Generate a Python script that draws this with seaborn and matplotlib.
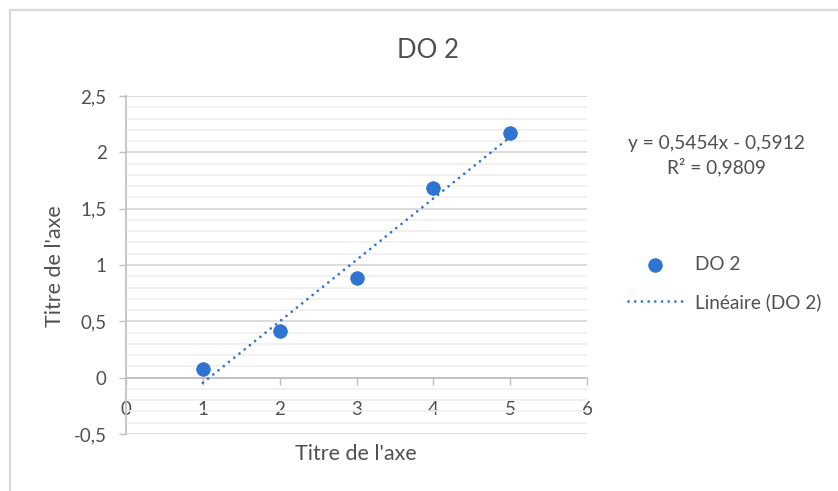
import matplotlib
matplotlib.use("Agg")
import matplotlib.pyplot as plt
import seaborn as sns
import numpy as np
import pandas as pd
from matplotlib.ticker import MultipleLocator, FixedLocator, FuncFormatter
from matplotlib.patches import Rectangle

# Measurements
x_vals = [1, 2, 3, 4, 5]
do2 = [0.081, 0.411, 0.882, 1.679, 2.172]

# Linear trendline
slope = 0.5454
intercept = -0.5912
r_squared = 0.9809

x_ticks = [0, 1, 2, 3, 4, 5, 6]
y_ticks = [-0.5, 0, 0.5, 1, 1.5, 2, 2.5]

sns.set_theme(style="white")
plt.rcParams['font.family'] = ['Lato', 'DejaVu Sans']

TEXT = "#505050"
BLUE = "#2E75D3"
AXIS = "#bfbfbf"
GRID_MAJOR = "#d9d9d9"
GRID_MINOR = "#f0f0f0"

W, H = 838, 491
fig = plt.figure(figsize=(W / 100, H / 100), dpi=100)
fig.patch.set_facecolor("white")

# chart frame
fig.add_artist(Rectangle((10 / W, -0.2), 2.0, (1 - 10 / H) + 0.2,
                         transform=fig.transFigure, fill=False,
                         edgecolor="#d9d9d9", lw=1.6))

ax = fig.add_axes([126 / W, 1 - 434 / H, 461 / W, 338 / H])

df = pd.DataFrame({"x": x_vals, "y": do2})
trend_x = np.array([x_vals[0], x_vals[-1]], dtype=float)
trend = pd.DataFrame({"x": trend_x, "y": slope * trend_x + intercept})

sns.lineplot(data=trend, x="x", y="y", ax=ax, color=BLUE, lw=2.0,
             linestyle=(0, (0.01, 2.4)), dash_capstyle="round",
             label="Linéaire (DO 2)", zorder=3)
sns.scatterplot(data=df, x="x", y="y", ax=ax, color=BLUE, s=95,
                edgecolor="#2a6cc4", linewidth=0.6, label="DO 2", zorder=4)

ax.set_xlim(0, 6)
ax.set_ylim(-0.5, 2.5)
ax.xaxis.set_major_locator(FixedLocator(x_ticks))
ax.yaxis.set_major_locator(FixedLocator(y_ticks))
ax.yaxis.set_minor_locator(MultipleLocator(0.1))
comma = FuncFormatter(lambda v, p: f"{v:g}".replace(".", ","))
ax.xaxis.set_major_formatter(comma)
ax.yaxis.set_major_formatter(comma)

ax.grid(False)
ax.grid(True, which="major", axis="y", color=GRID_MAJOR, lw=1.3, zorder=0)
ax.grid(True, which="minor", axis="y", color=GRID_MINOR, lw=1.3, zorder=0)
ax.set_axisbelow(True)

for side in ["top", "right"]:
    ax.spines[side].set_visible(False)
ax.spines["left"].set_color(AXIS)
ax.spines["left"].set_linewidth(1.2)
ax.spines["bottom"].set_color(AXIS)
ax.spines["bottom"].set_linewidth(1.2)
ax.spines["bottom"].set_position(("data", 0))

ax.tick_params(axis="x", which="major", direction="out", length=5, width=1.0,
               color=AXIS, pad=12, labelsize=13.5, labelcolor=TEXT,
               bottom=True)
ax.tick_params(axis="y", which="major", direction="out", length=5, width=1.0,
               color=AXIS, pad=9, labelsize=13.5, labelcolor=TEXT, left=True)
ax.tick_params(axis="y", which="minor", length=0)

ax.set_xlabel("")
ax.set_ylabel("")
fig.text(356 / W, 1 - 454 / H, "Titre de l'axe", ha="center", va="center",
         fontsize=15.5, color=TEXT)
fig.text(55 / W, 1 - 266 / H, "Titre de l'axe", ha="center", va="center",
         rotation=90, fontsize=15.5, color=TEXT)
fig.text(428 / W, 1 - 50 / H, "DO 2", ha="center", va="center",
         fontsize=18.5, color=TEXT)

sign = "-" if intercept < 0 else "+"
eq = f"y = {slope:.4f}x {sign} {abs(intercept):.4f}".replace(".", ",")
fig.text(716 / W, 1 - 143 / H, eq, ha="center", va="center",
         fontsize=13.8, color=TEXT)
fig.text(716 / W, 1 - 167 / H, f"R² = {r_squared:.4f}".replace(".", ","),
         ha="center", va="center", fontsize=13.8, color=TEXT)

handles, labels = ax.get_legend_handles_labels()
order = [labels.index("DO 2"), labels.index("Linéaire (DO 2)")]
leg = ax.legend([handles[i] for i in order], [labels[i] for i in order],
                loc="center left", bbox_to_anchor=(628 / W, 1 - 283.5 / H),
                bbox_transform=fig.transFigure, frameon=False,
                fontsize=13.7, handlelength=2.85, handletextpad=0.65,
                labelspacing=1.05, borderpad=0, borderaxespad=0,
                markerscale=1.0)
for t in leg.get_texts():
    t.set_color(TEXT)

fig.savefig("out.png", dpi=100, facecolor="white")
